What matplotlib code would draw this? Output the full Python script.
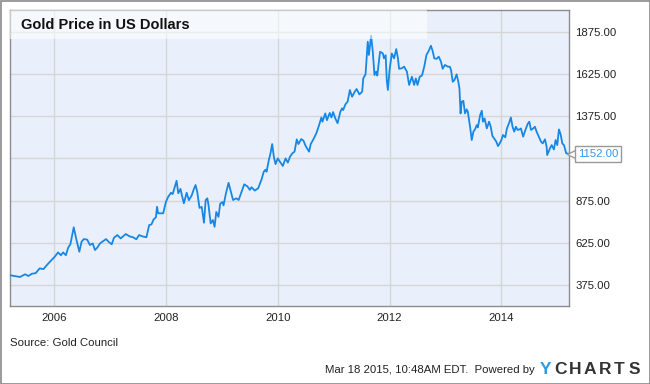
import matplotlib
matplotlib.use('Agg')
import matplotlib.pyplot as plt
from matplotlib.patches import Rectangle
from matplotlib.transforms import blended_transform_factory, offset_copy

plt.rcParams['font.family'] = ['Liberation Sans', 'DejaVu Sans']

# weekly-ish readings of the gold price, x in decimal years
years = [
  2005.20, 2005.39, 2005.48, 2005.54, 2005.60, 2005.67, 2005.74, 2005.81, 2005.87, 2005.94,
  2006.01, 2006.07, 2006.12, 2006.16, 2006.21, 2006.25, 2006.29, 2006.35, 2006.40, 2006.45,
  2006.49, 2006.53, 2006.59, 2006.64, 2006.69, 2006.73, 2006.77, 2006.82, 2006.88, 2006.93,
  2006.97, 2007.03, 2007.07, 2007.13, 2007.19, 2007.28, 2007.35, 2007.41, 2007.47, 2007.52,
  2007.58, 2007.65, 2007.70, 2007.74, 2007.78, 2007.82, 2007.84, 2007.86, 2007.95, 2008.00,
  2008.04, 2008.09, 2008.12, 2008.16, 2008.19, 2008.22, 2008.26, 2008.29, 2008.32, 2008.37,
  2008.41, 2008.46, 2008.50, 2008.53, 2008.56, 2008.60, 2008.64, 2008.68, 2008.71, 2008.74,
  2008.76, 2008.80, 2008.84, 2008.87, 2008.90, 2008.94, 2008.97, 2009.01, 2009.03, 2009.07,
  2009.12, 2009.17, 2009.20, 2009.26, 2009.30, 2009.40, 2009.46, 2009.50, 2009.53, 2009.59,
  2009.65, 2009.71, 2009.75, 2009.78, 2009.80, 2009.84, 2009.87, 2009.90, 2009.93, 2009.96,
  2010.00, 2010.04, 2010.09, 2010.14, 2010.18, 2010.22, 2010.26, 2010.30, 2010.34, 2010.37,
  2010.42, 2010.46, 2010.50, 2010.56, 2010.59, 2010.64, 2010.69, 2010.74, 2010.78, 2010.80,
  2010.85, 2010.88, 2010.93, 2010.96, 2010.99, 2011.03, 2011.07, 2011.12, 2011.15, 2011.17,
  2011.21, 2011.25, 2011.29, 2011.33, 2011.37, 2011.41, 2011.46, 2011.51, 2011.53, 2011.57,
  2011.61, 2011.63, 2011.67, 2011.70, 2011.73, 2011.76, 2011.78, 2011.83, 2011.88, 2011.90,
  2011.93, 2011.95, 2011.97, 2012.00, 2012.04, 2012.08, 2012.12, 2012.15, 2012.17, 2012.22,
  2012.26, 2012.31, 2012.35, 2012.40, 2012.44, 2012.47, 2012.50, 2012.54, 2012.58, 2012.62,
  2012.66, 2012.70, 2012.74, 2012.77, 2012.80, 2012.84, 2012.88, 2012.92, 2012.95, 2012.99,
  2013.04, 2013.08, 2013.10, 2013.13, 2013.16, 2013.20, 2013.23, 2013.25, 2013.27, 2013.29,
  2013.32, 2013.35, 2013.38, 2013.40, 2013.44, 2013.47, 2013.50, 2013.53, 2013.56, 2013.58,
  2013.62, 2013.65, 2013.67, 2013.70, 2013.74, 2013.78, 2013.81, 2013.84, 2013.87, 2013.91,
  2013.94, 2013.97, 2014.00, 2014.03, 2014.07, 2014.10, 2014.14, 2014.17, 2014.20, 2014.23,
  2014.26, 2014.29, 2014.33, 2014.35, 2014.39, 2014.43, 2014.47, 2014.50, 2014.53, 2014.57,
  2014.60, 2014.63, 2014.67, 2014.71, 2014.74, 2014.78, 2014.81, 2014.82, 2014.87, 2014.90,
  2014.94, 2014.97, 2015.00, 2015.03, 2015.06, 2015.09, 2015.12, 2015.16, 2015.21,
]
price = [
  432, 421, 437, 427, 440, 444, 472, 468, 492, 517,
  541, 567, 550, 567, 550, 595, 615, 716, 640, 571,
  630, 646, 643, 611, 620, 581, 595, 620, 635, 646,
  631, 615, 654, 670, 650, 676, 662, 657, 645, 670,
  662, 657, 729, 733, 763, 775, 838, 799, 799, 868,
  897, 921, 913, 957, 992, 918, 944, 899, 858, 921,
  877, 905, 944, 967, 925, 831, 837, 743, 877, 888,
  850, 739, 759, 719, 807, 778, 856, 866, 846, 913,
  980, 917, 878, 888, 878, 971, 958, 938, 954, 934,
  948, 1000, 1046, 1058, 1046, 1115, 1155, 1210, 1135, 1091,
  1125, 1105, 1080, 1125, 1100, 1135, 1155, 1165, 1238, 1210,
  1240, 1230, 1198, 1165, 1210, 1240, 1274, 1323, 1368, 1343,
  1392, 1352, 1395, 1368, 1400, 1362, 1334, 1402, 1422, 1412,
  1446, 1462, 1531, 1491, 1517, 1537, 1505, 1521, 1600, 1624,
  1818, 1739, 1853, 1758, 1620, 1640, 1617, 1758, 1748, 1719,
  1738, 1590, 1531, 1650, 1748, 1719, 1774, 1719, 1657, 1660,
  1670, 1640, 1561, 1610, 1561, 1600, 1561, 1610, 1617, 1669,
  1739, 1763, 1794, 1763, 1719, 1716, 1729, 1699, 1657, 1680,
  1670, 1669, 1649, 1580, 1590, 1624, 1580, 1541, 1392, 1461,
  1467, 1392, 1416, 1402, 1313, 1234, 1284, 1298, 1323, 1309,
  1382, 1408, 1343, 1362, 1303, 1343, 1313, 1258, 1244, 1224,
  1198, 1214, 1234, 1264, 1250, 1303, 1337, 1368, 1313, 1284,
  1313, 1294, 1298, 1303, 1254, 1294, 1329, 1343, 1294, 1303,
  1313, 1284, 1254, 1224, 1214, 1238, 1194, 1145, 1185, 1204,
  1178, 1234, 1204, 1297, 1268, 1214, 1204, 1155, 1152,
]

year_ticks = [2006, 2008, 2010, 2012, 2014]
price_ticks = [375, 625, 875, 1125, 1375, 1625, 1875]
last_label = '1152.00'

W, H = 650, 384
fig = plt.figure(figsize=(W / 100, H / 100), dpi=100)
fig.patch.set_facecolor('white')
ax = fig.add_axes([10 / W, 1 - 306.3 / H, 559 / W, 296.3 / H])
ax.set_facecolor('#eaf0fb')

ax.plot(years, price, color='#1787e6', lw=1.3, zorder=3)

ax.set_xlim(2005.21, 2015.21)
ax.set_ylim(247, 2006)

ax.set_xticks(year_ticks)
ax.set_xticklabels([str(y) for y in year_ticks])
ax.yaxis.tick_right()
ax.set_yticks(price_ticks)
ax.set_yticklabels(['' if p == 1125 else '%.2f' % p for p in price_ticks])
ax.tick_params(length=0, labelsize=8.2, colors='#222222')
ax.tick_params(axis='x', pad=5)
ax.tick_params(axis='y', pad=4.5)
ax.grid(color='#d6d6d6', lw=1, zorder=1)
ax.set_axisbelow(True)
for s in ax.spines.values():
  s.set_color('#8c8c8c')
  s.set_linewidth(1)

# translucent title box
ax.add_patch(Rectangle((0, 0.902), 0.746, 0.098, transform=ax.transAxes,
                       fc='white', ec='none', alpha=0.55, zorder=4))
ax.text(0.02, 0.951, 'Gold Price in US Dollars', transform=ax.transAxes,
        fontsize=10.5, fontweight='bold', color='#111111', va='center', zorder=5)

# last value flag
tr = blended_transform_factory(ax.transAxes, ax.transData)
ax.plot([1.0], [price[-1]], marker='<', ms=7, mfc='white', mec='#999999', mew=1,
        transform=offset_copy(tr, fig=fig, x=3, y=0, units='dots'),
        clip_on=False, zorder=6)
ax.annotate(last_label, xy=(1.0, price[-1]), xycoords=tr, xytext=(6.5, 0),
            textcoords='offset points', va='center', ha='left', fontsize=8.2,
            color='#3a96e8', annotation_clip=False, zorder=7,
            bbox=dict(boxstyle='square,pad=0.25', fc='white', ec='#999999', lw=1))

fig.text(10 / W, 1 - 342.5 / H, 'Source: Gold Council', fontsize=8.2,
         color='#222222', va='center')
fig.text(535 / W, 1 - 370 / H, 'Mar 18 2015, 10:48AM EDT.  Powered by',
         fontsize=8.2, color='#222222', va='center', ha='right')
logo = 'YCHARTS'
for i, ch in enumerate(logo):
  fig.text((546 + i * 14.7) / W, 1 - 369 / H, ch, fontsize=12.5,
           fontweight='bold', va='center', ha='center',
           color='#2b9be6' if i == 0 else '#333333')

# outer frame
fig.patches.append(Rectangle((0.5 / W, 0.5 / H), 1 - 1 / W, 1 - 1 / H,
                             transform=fig.transFigure, fc='none',
                             ec='#8a8a8a', lw=1.2))

fig.savefig('out.png', dpi=100)
